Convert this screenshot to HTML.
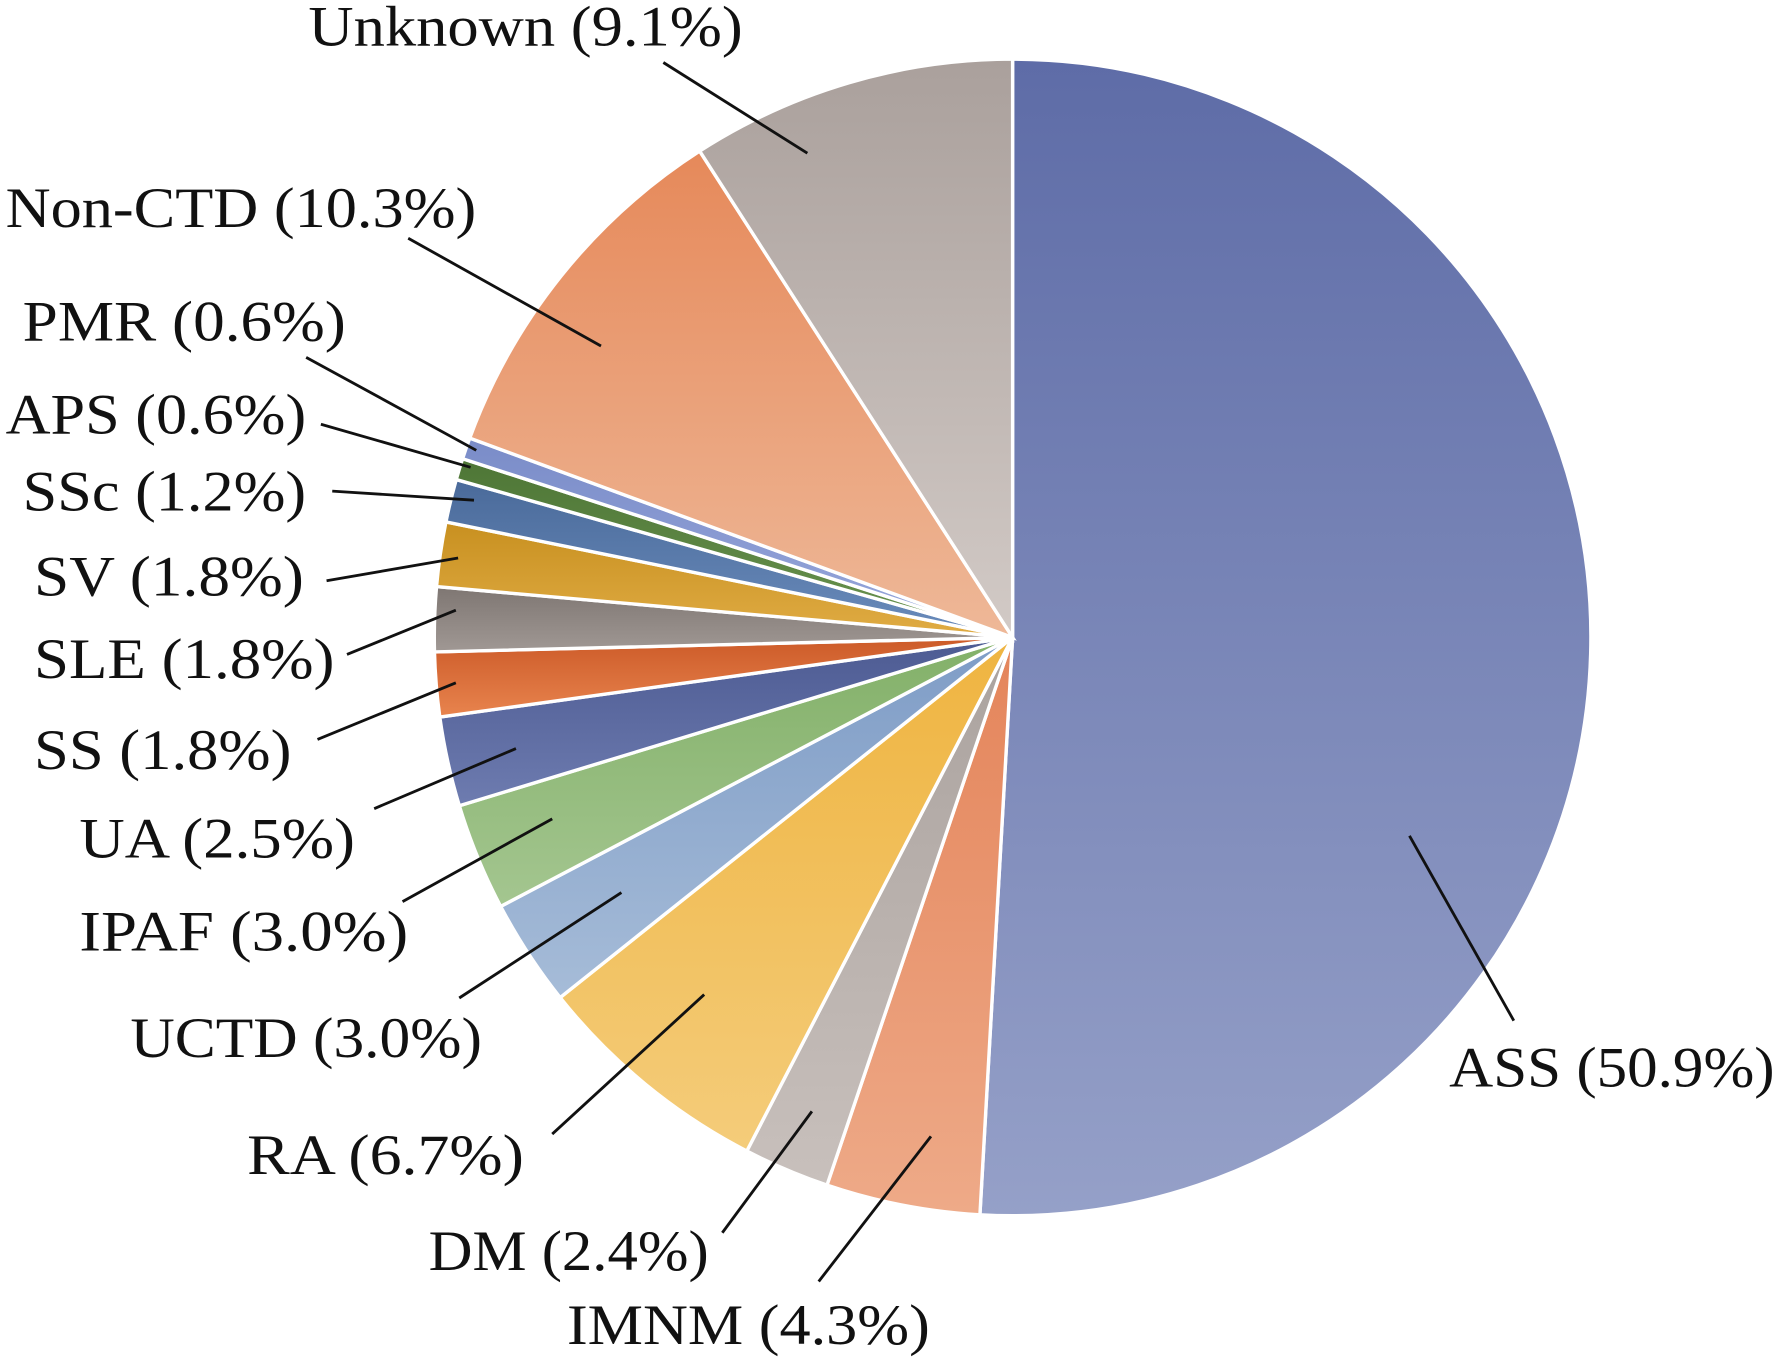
<!DOCTYPE html>
<html><head><meta charset="utf-8"><style>
html,body{margin:0;padding:0;background:#fff;}
svg{display:block}
text{font-family:"Liberation Serif",serif;font-size:50px;fill:#111;}
</style></head><body>
<svg id="s" width="1778" height="1361" viewBox="0 0 1568 1200" xmlns="http://www.w3.org/2000/svg">
<defs id="d"></defs>
<g id="pie"></g>
<g stroke="#111" stroke-width="2.5">
<line x1="585" y1="55" x2="712" y2="135"/>
<line x1="360" y1="210" x2="530" y2="305"/>
<line x1="270" y1="315" x2="420" y2="397"/>
<line x1="283" y1="374" x2="415" y2="412"/>
<line x1="293" y1="433" x2="418" y2="441"/>
<line x1="288" y1="512" x2="404" y2="492"/>
<line x1="306" y1="577" x2="402" y2="538"/>
<line x1="280" y1="652" x2="402" y2="602"/>
<line x1="330" y1="713" x2="455" y2="660"/>
<line x1="355" y1="795" x2="487" y2="722"/>
<line x1="405" y1="880" x2="548" y2="787"/>
<line x1="487" y1="1000" x2="621" y2="877"/>
<line x1="637" y1="1087" x2="716" y2="980"/>
<line x1="722" y1="1130" x2="821" y2="1002"/>
<line x1="1335" y1="900" x2="1243" y2="737"/>
</g>
<g>
<text x="272" y="40" textLength="383" lengthAdjust="spacingAndGlyphs">Unknown (9.1%)</text>
<text x="5" y="200" textLength="415" lengthAdjust="spacingAndGlyphs">Non-CTD (10.3%)</text>
<text x="20" y="300" textLength="285" lengthAdjust="spacingAndGlyphs">PMR (0.6%)</text>
<text x="5" y="382" textLength="265" lengthAdjust="spacingAndGlyphs">APS (0.6%)</text>
<text x="20" y="450" textLength="250" lengthAdjust="spacingAndGlyphs">SSc (1.2%)</text>
<text x="30" y="525" textLength="238" lengthAdjust="spacingAndGlyphs">SV (1.8%)</text>
<text x="30" y="598" textLength="265" lengthAdjust="spacingAndGlyphs">SLE (1.8%)</text>
<text x="30" y="678" textLength="227" lengthAdjust="spacingAndGlyphs">SS (1.8%)</text>
<text x="70" y="756" textLength="243" lengthAdjust="spacingAndGlyphs">UA (2.5%)</text>
<text x="70" y="838" textLength="290" lengthAdjust="spacingAndGlyphs">IPAF (3.0%)</text>
<text x="115" y="932" textLength="310" lengthAdjust="spacingAndGlyphs">UCTD (3.0%)</text>
<text x="218" y="1035" textLength="244" lengthAdjust="spacingAndGlyphs">RA (6.7%)</text>
<text x="378" y="1120" textLength="247" lengthAdjust="spacingAndGlyphs">DM (2.4%)</text>
<text x="500" y="1185" textLength="320" lengthAdjust="spacingAndGlyphs">IMNM (4.3%)</text>
<text x="1278" y="958" textLength="287" lengthAdjust="spacingAndGlyphs">ASS (50.9%)</text>
</g>
</svg>
<script>
var cx=893,cy=562,r=510;
var data=[[50.9,"#5e6ca7","#95a0c8"],[4.3,"#e4845a","#eeaa88"],[2.4,"#aaa29e","#c8c0bc"],[6.7,"#efb440","#f4cc7a"],[3.0,"#7e9cc6","#a6bcd8"],[3.0,"#82b068","#a4c690"],[2.5,"#4c5a92","#6e7cb0"],[1.8,"#cc5a28","#e8844e"],[1.8,"#7e7672","#a09894"],[1.8,"#c89020","#e0ac44"],[1.2,"#4a6a9a","#6a8cbc"],[0.6,"#4e7636","#6a9450"],[0.6,"#7a8cc8","#98a8dc"],[10.3,"#e6895a","#eeb898"],[9.1,"#aaa09c","#d2cac6"]];
var ns="http://www.w3.org/2000/svg",d=document.getElementById("d"),g=document.getElementById("pie");
var a=0;
data.forEach(function(s,i){
 var gr=document.createElementNS(ns,"linearGradient");gr.setAttribute("id","g"+i);gr.setAttribute("x1","0");gr.setAttribute("y1","0");gr.setAttribute("x2","0");gr.setAttribute("y2","1");
 var s1=document.createElementNS(ns,"stop");s1.setAttribute("offset","0");s1.setAttribute("stop-color",s[1]);
 var s2=document.createElementNS(ns,"stop");s2.setAttribute("offset","1");s2.setAttribute("stop-color",s[2]);
 gr.appendChild(s1);gr.appendChild(s2);d.appendChild(gr);
 var a0=a,a1=a+s[0]/100*2*Math.PI;a=a1;
 var x0=cx+r*Math.sin(a0),y0=cy-r*Math.cos(a0),x1=cx+r*Math.sin(a1),y1=cy-r*Math.cos(a1);
 var p=document.createElementNS(ns,"path");
 p.setAttribute("d","M"+cx+","+cy+"L"+x0+","+y0+"A"+r+","+r+" 0 "+((a1-a0)>Math.PI?1:0)+" 1 "+x1+","+y1+"Z");
 p.setAttribute("fill","url(#g"+i+")");p.setAttribute("stroke","#fff");p.setAttribute("stroke-width","3");
 g.appendChild(p);
});
</script>
</body></html>
